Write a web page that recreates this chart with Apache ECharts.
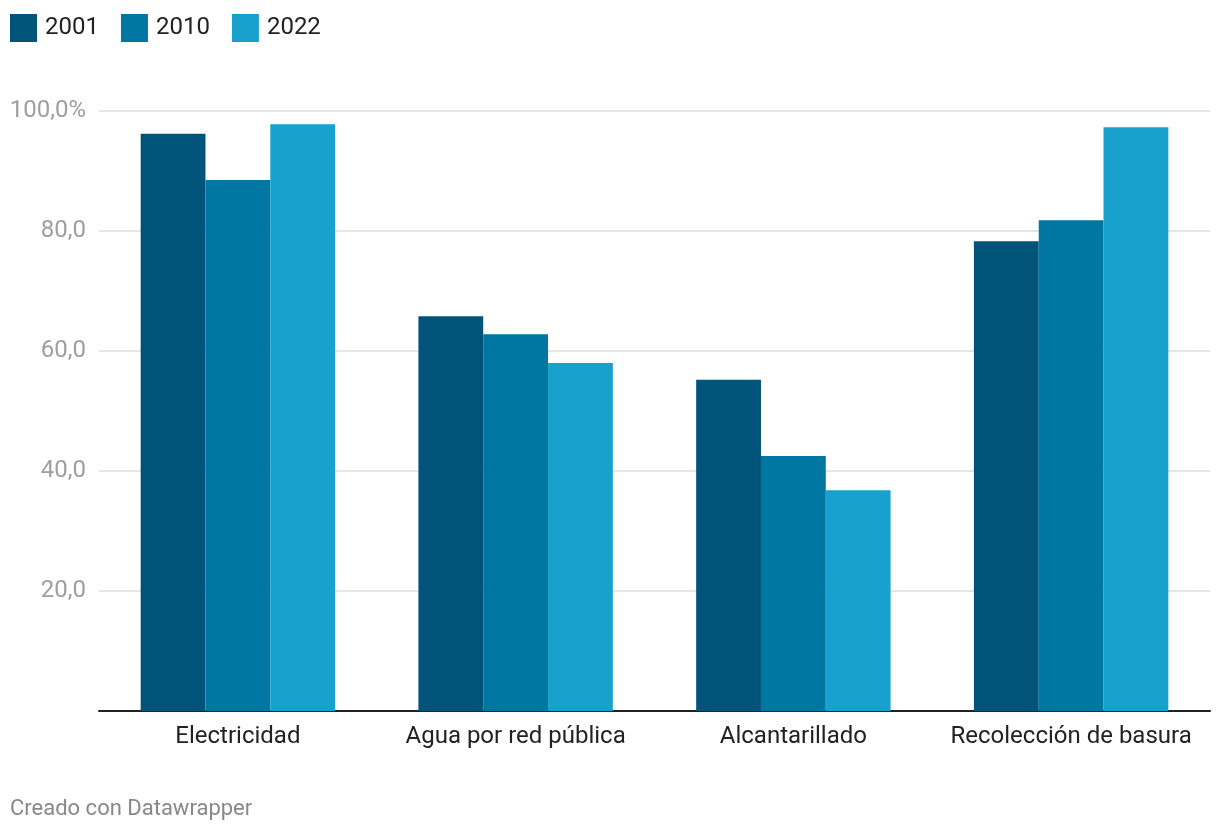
<!DOCTYPE html>
<html>
<head>
<meta charset="utf-8">
<script src="https://cdn.jsdelivr.net/npm/echarts@6/dist/echarts.min.js"></script>
<style>
html,body{margin:0;padding:0;background:#fff;}
#chart{width:1220px;height:832px;}
</style>
</head>
<body>
<div id="chart"></div>
<script>
const categories = ['Electricidad', 'Agua por red pública', 'Alcantarillado', 'Recolección de basura'];
const seriesNames = ['2001', '2010', '2022'];
const values2001 = [96.2, 65.8, 55.2, 78.3];
const values2010 = [88.5, 62.8, 42.5, 81.8];
const values2022 = [97.8, 58.0, 36.8, 97.3];
const colors = ['#005379', '#0077a2', '#19a1cd'];
const yTicks = [0, 20, 40, 60, 80, 100];

const chart = echarts.init(document.getElementById('chart'), null, {renderer: 'canvas'});
const font = 'Roboto, "Noto Sans", sans-serif';
const seriesData = [values2001, values2010, values2022];

chart.setOption({
  animation: false,
  textStyle: {fontFamily: font},
  color: colors,
  legend: {
    left: 10, top: 14,
    padding: 0,
    icon: 'rect',
    itemWidth: 27, itemHeight: 28,
    itemGap: 22,
    data: seriesNames,
    textStyle: {fontSize: 24, color: '#222', fontFamily: font, padding: [0, 0, 0, 3]}
  },
  grid: {left: 99, right: 10, top: 111, bottom: 121, containLabel: false},
  xAxis: {
    type: 'category',
    data: categories,
    axisLine: {lineStyle: {color: '#222', width: 2}},
    axisTick: {show: false},
    axisLabel: {fontSize: 24, color: '#222', margin: 14, fontFamily: font, interval: 0}
  },
  yAxis: {
    type: 'value',
    min: yTicks[0], max: yTicks[yTicks.length - 1], interval: 20,
    axisLine: {show: false},
    axisTick: {show: false},
    splitLine: {lineStyle: {color: '#e6e6e6', width: 2}},
    axisLabel: {
      fontSize: 24, color: '#9e9e9e', margin: 13, fontFamily: font,
      formatter: function (v) {
        if (v === 0) return '';
        const s = v.toFixed(1).replace('.', ',');
        return v === 100 ? s + '%' : s;
      }
    }
  },
  series: seriesNames.map(function (n, i) {
    return {
      name: n, type: 'bar', data: seriesData[i],
      barGap: '0%', barCategoryGap: '30%',
      itemStyle: {color: colors[i]}
    };
  }),
  graphic: [{
    type: 'text', left: 10, top: 798,
    style: {text: 'Creado con Datawrapper', fontSize: 22, fill: '#888', fontFamily: font}
  }]
});
</script>
</body>
</html>
